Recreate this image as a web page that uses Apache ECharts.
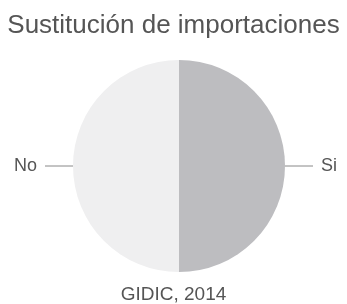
<!DOCTYPE html>
<html>
<head>
<meta charset="utf-8">
<script src="https://cdn.jsdelivr.net/npm/echarts@6/dist/echarts.min.js"></script>
<style>
  html, body { margin: 0; padding: 0; background: #fff; }
  #chart { width: 347px; height: 304px; }
</style>
</head>
<body>
<div id="chart"></div>
<script>
// datos
var categorias = ['Si', 'No']
var valores = [50, 50]
var colores = ['#bdbdc0', '#efeff0']

var chart = echarts.init(document.getElementById('chart'))
var option = {
  title: [
    {
      text: 'Sustitución de importaciones',
      left: 'center',
      top: 8,
      textStyle: { color: '#555', fontSize: 26, fontWeight: 'normal', fontFamily: 'Liberation Sans' }
    },
    {
      text: 'GIDIC, 2014',
      left: 'center',
      top: 280,
      textStyle: { color: '#555', fontSize: 19, fontWeight: 'normal', fontFamily: 'Liberation Sans' }
    }
  ],
  series: [
    {
      type: 'pie',
      center: [179, 166],
      radius: 106,
      startAngle: 90,
      clockwise: true,
      silent: true,
      label: {
        show: true,
        color: '#555',
        fontSize: 18,
        fontFamily: 'Liberation Sans',
        overflow: 'none',
        distanceToLabelLine: 8
      },
      labelLine: {
        show: true,
        length: 14,
        length2: 14,
        lineStyle: { color: '#888', width: 1 }
      },
      data: categorias.map(function (c, i) {
        return { name: c, value: valores[i], itemStyle: { color: colores[i] } }
      })
    }
  ]
}
chart.setOption(option)
</script>
</body>
</html>
